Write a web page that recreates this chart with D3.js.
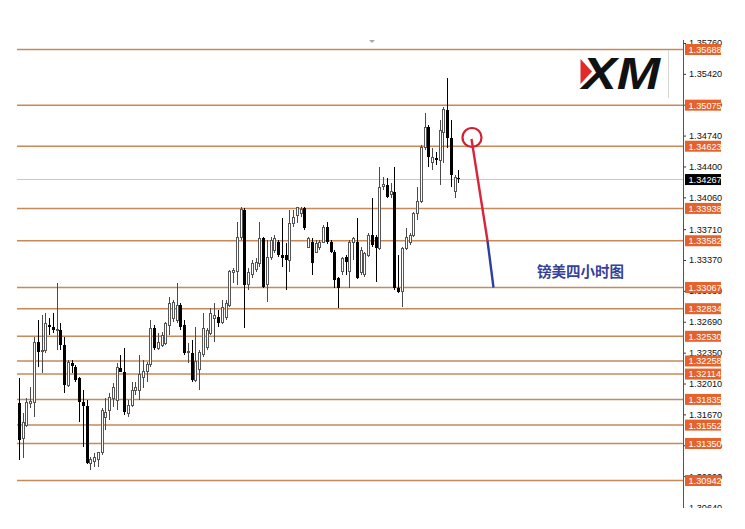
<!DOCTYPE html>
<html><head><meta charset="utf-8">
<script src="https://cdn.jsdelivr.net/npm/d3@7/dist/d3.min.js"></script>
<style>
html,body{margin:0;padding:0;background:#fff;}
svg{display:block;}
</style></head>
<body>
<svg id="chart" width="745" height="529"></svg>
<script>
// ---- data (GBP/USD 4H candles) ----
const opens = [1.31795,1.31399,1.31553,1.31795,1.31806,1.32467,1.32357,1.32379,1.32654,1.32632,1.32599,1.32599,1.32434,1.31993,1.32236,1.32192,1.32071,1.31806,1.31762,1.31134,1.31156,1.31168,1.31245,1.31641,1.31718,1.31850,1.31828,1.32181,1.32137,1.31685,1.31773,1.31938,1.31938,1.32071,1.32137,1.32214,1.32621,1.32401,1.32434,1.32456,1.32654,1.32731,1.32709,1.32874,1.32654,1.32346,1.32346,1.32048,1.32159,1.32324,1.32412,1.32566,1.32731,1.32742,1.32687,1.32742,1.32874,1.33227,1.33238,1.33623,1.33921,1.33095,1.33205,1.33260,1.33337,1.33612,1.33095,1.33403,1.33480,1.33568,1.33425,1.33425,1.33370,1.33777,1.33865,1.33887,1.33943,1.33513,1.33568,1.33458,1.33513,1.33568,1.33733,1.33568,1.33458,1.33172,1.33238,1.33403,1.33238,1.33568,1.33568,1.33227,1.33205,1.33425,1.33645,1.33623,1.33502,1.34174,1.34196,1.34086,1.34119,1.33062,1.33018,1.33502,1.33568,1.33645,1.33887,1.34009,1.34614,1.34835,1.34449,1.34493,1.34471,1.34779,1.35022,1.34713,1.34119,1.34273];
const highs = [1.32071,1.31685,1.31850,1.31971,1.32522,1.32709,1.32764,1.32786,1.32731,1.32786,1.33117,1.32676,1.32522,1.32269,1.32269,1.32214,1.32082,1.31938,1.31828,1.31200,1.31245,1.31256,1.31740,1.31850,1.31905,1.32015,1.32236,1.32324,1.32401,1.31828,1.32026,1.32026,1.32324,1.32269,1.32247,1.32709,1.32654,1.32566,1.32577,1.32687,1.32962,1.32929,1.33117,1.32896,1.32709,1.32456,1.32489,1.32632,1.32379,1.32786,1.32621,1.32841,1.32896,1.32819,1.32929,1.32929,1.33260,1.33282,1.33788,1.33954,1.33943,1.33282,1.33370,1.33392,1.33788,1.33623,1.33590,1.33623,1.33645,1.33590,1.33832,1.33557,1.33921,1.33921,1.33954,1.33954,1.33954,1.33623,1.33612,1.33590,1.33590,1.33755,1.33788,1.33590,1.33480,1.33183,1.33403,1.33425,1.33590,1.33623,1.33832,1.33513,1.33458,1.33667,1.34053,1.33645,1.34394,1.34284,1.34273,1.34218,1.34394,1.33425,1.33513,1.33722,1.33667,1.33899,1.34174,1.34636,1.34989,1.34857,1.34603,1.34559,1.34912,1.35055,1.35374,1.34912,1.34306,1.34361];
const lows = [1.31168,1.31190,1.31531,1.31740,1.31641,1.32192,1.32126,1.32346,1.32544,1.32566,1.32379,1.32379,1.31905,1.31971,1.32126,1.32026,1.31586,1.31311,1.31120,1.31057,1.31090,1.31090,1.31222,1.31498,1.31608,1.31751,1.31718,1.32137,1.31663,1.31641,1.31751,1.31883,1.31828,1.31960,1.32026,1.32192,1.32379,1.32379,1.32412,1.32434,1.32544,1.32687,1.32676,1.32599,1.32324,1.32236,1.32026,1.32026,1.31938,1.32302,1.32379,1.32544,1.32467,1.32632,1.32665,1.32709,1.32852,1.33117,1.33095,1.33590,1.32621,1.33040,1.33172,1.33238,1.33293,1.33062,1.32907,1.33370,1.33447,1.33403,1.33293,1.33040,1.33238,1.33733,1.33777,1.33843,1.33700,1.33502,1.33205,1.33447,1.33480,1.33557,1.33546,1.33447,1.33062,1.32841,1.33205,1.33205,1.33062,1.33370,1.33160,1.33205,1.33183,1.33403,1.33513,1.33128,1.33480,1.34141,1.34053,1.34053,1.33040,1.33007,1.32852,1.33480,1.33535,1.33623,1.33810,1.33998,1.34581,1.34394,1.34361,1.34416,1.34196,1.34438,1.34603,1.34174,1.34053,1.34218];
const closes = [1.31388,1.31586,1.31806,1.31817,1.32467,1.32357,1.32379,1.32676,1.32632,1.32599,1.32610,1.32434,1.31993,1.32236,1.32203,1.32048,1.31806,1.31762,1.31134,1.31168,1.31190,1.31245,1.31718,1.31696,1.31861,1.31971,1.32181,1.32137,1.31696,1.31773,1.31938,1.31971,1.32104,1.32137,1.32214,1.32621,1.32401,1.32467,1.32544,1.32676,1.32896,1.32907,1.32874,1.32632,1.32346,1.32357,1.32048,1.32247,1.32346,1.32621,1.32599,1.32786,1.32764,1.32676,1.32852,1.32896,1.33238,1.33249,1.33623,1.33921,1.33095,1.33227,1.33337,1.33348,1.33612,1.33073,1.33403,1.33590,1.33612,1.33425,1.33392,1.33370,1.33777,1.33843,1.33943,1.33921,1.33722,1.33612,1.33337,1.33557,1.33568,1.33733,1.33568,1.33458,1.33150,1.33062,1.33392,1.33348,1.33568,1.33612,1.33172,1.33480,1.33447,1.33645,1.33535,1.33502,1.34163,1.34196,1.34064,1.34119,1.33062,1.33018,1.33502,1.33623,1.33645,1.33887,1.34009,1.34614,1.34824,1.34504,1.34504,1.34471,1.34801,1.35022,1.34713,1.34306,1.34284,1.34267];
const levels = [1.35688,1.35075,1.34623,1.33938,1.33582,1.33067,1.32834,1.32530,1.32258,1.32114,1.31835,1.31552,1.31350,1.30942];
const tickLabels = [1.35760,1.35420,1.35080,1.34740,1.34400,1.34060,1.33710,1.33370,1.33030,1.32690,1.32350,1.32010,1.31670,1.31330,1.30990,1.30640];
const currentPrice = 1.34267;
const titleText = "镑美四小时图";
const logoText = "XM";

// ---- layout ----
const svg = d3.select("#chart");
const plotL = 17, plotR = 683, clipTop = 40, clipBot = 508;
const y = d3.scaleLinear().domain([1.35688, 1.30942]).range([49.5, 480.5]);
const x = d3.scaleBand().domain(d3.range(opens.length)).range([17.1, 460.2]);

const defs = svg.append("defs");
defs.append("clipPath").attr("id","clipAll").append("rect")
  .attr("x",0).attr("y",clipTop).attr("width",745).attr("height",clipBot-clipTop);

const root = svg.append("g").attr("clip-path","url(#clipAll)");

// top marker triangle
root.append("path").attr("d","M368,39 L376,39 L372,43 Z").attr("fill","#aaa");

// current price gray line
root.append("line").attr("x1",plotL).attr("x2",plotR)
  .attr("y1",Math.round(y(currentPrice))+0.5).attr("y2",Math.round(y(currentPrice))+0.5)
  .attr("stroke","#c8c8c8").attr("stroke-width",1);

// level lines
root.selectAll("line.level").data(levels).join("line").attr("class","level")
  .attr("x1",plotL).attr("x2",plotR)
  .attr("y1",d=>y(d)).attr("y2",d=>y(d))
  .attr("stroke","#c9885a").attr("stroke-width",1.5);

// candles
const idx = d3.range(opens.length);
const cg = root.append("g").attr("shape-rendering","crispEdges");
idx.forEach(i=>{
  const xc = Math.round(x(i) + x.bandwidth()/2);
  const bull = closes[i] >= opens[i];
  cg.append("line").attr("x1",xc+0.5).attr("x2",xc+0.5)
    .attr("y1",y(highs[i])).attr("y2",y(lows[i]))
    .attr("stroke", bull ? "#4a4a4a" : "#000").attr("stroke-width",1);
  const yt = y(Math.max(opens[i],closes[i])), yb = y(Math.min(opens[i],closes[i]));
  const h = Math.max(1, yb-yt);
  if (bull) {
    cg.append("rect").attr("x",xc-0.5).attr("y",yt).attr("width",2).attr("height",h)
      .attr("fill","#fff").attr("stroke","#555").attr("stroke-width",1);
  } else {
    cg.append("rect").attr("x",xc-1).attr("y",yt).attr("width",3).attr("height",h)
      .attr("fill","#000");
  }
});

// annotation: circle + arrow line
root.append("circle").attr("cx",472).attr("cy",137.5).attr("r",9.5)
  .attr("fill","none").attr("stroke","#d01f2e").attr("stroke-width",2.2);
root.append("line").attr("x1",471.5).attr("y1",139).attr("x2",487.5).attr("y2",y(1.33582))
  .attr("stroke","#d7263a").attr("stroke-width",2.4);
root.append("line").attr("x1",487.5).attr("y1",y(1.33582)).attr("x2",493.5).attr("y2",y(1.33067))
  .attr("stroke","#2f3f9e").attr("stroke-width",2.4);

// title text
root.append("text").attr("x",537).attr("y",277).text(titleText)
  .attr("font-family","'Noto Sans CJK SC', sans-serif").attr("font-size",14.5)
  .attr("font-weight",700).attr("fill","#36409a");

// XM logo
root.append("line").attr("x1",668.5).attr("x2",668.5).attr("y1",50).attr("y2",98)
  .attr("stroke","#d8d8d8").attr("stroke-width",1);
root.append("text").attr("x",582).attr("y",88.5).text(logoText)
  .attr("font-family","'Liberation Sans', Arial, sans-serif").attr("font-size",44)
  .attr("font-weight",900).attr("font-style","italic").attr("fill","#111")
  .attr("textLength",78).attr("lengthAdjust","spacingAndGlyphs");
root.append("path").attr("d","M580.5,59 L592,71.5 L580.5,84 Z").attr("fill","#e02b2b");

// right axis
const axisG = root.append("g").attr("transform",`translate(${plotR},0)`);
axisG.call(d3.axisRight(y).tickValues(tickLabels).tickFormat(d3.format(".5f"))
  .tickSize(3).tickPadding(3));
axisG.select(".domain").remove();
axisG.selectAll(".tick line").attr("stroke","#333");
axisG.selectAll(".tick text").attr("font-family","'Liberation Sans', Arial, sans-serif")
  .attr("font-size",9.2).attr("fill","#111");
root.append("line").attr("x1",plotR+0.5).attr("x2",plotR+0.5).attr("y1",clipTop).attr("y2",clipBot)
  .attr("stroke","#555").attr("stroke-width",1);

// level labels
const lab = root.selectAll("g.lab").data(levels).join("g").attr("class","lab")
  .attr("transform",d=>`translate(685,${y(d)})`);
lab.append("rect").attr("x",0).attr("y",-5.5).attr("width",36).attr("height",11).attr("fill","#e5622a");
lab.append("text").attr("x",3.5).attr("y",3.4).text(d=>d3.format(".5f")(d))
  .attr("font-family","'Liberation Sans', Arial, sans-serif").attr("font-size",9.2).attr("fill","#fff");

// current price label
const cp = root.append("g").attr("transform",`translate(685,${y(currentPrice)+1})`);
cp.append("rect").attr("x",0).attr("y",-5.5).attr("width",36).attr("height",11).attr("fill","#000");
cp.append("text").attr("x",3.5).attr("y",3.4).text(d3.format(".5f")(currentPrice))
  .attr("font-family","'Liberation Sans', Arial, sans-serif").attr("font-size",9.2).attr("fill","#fff");
</script>
</body></html>
